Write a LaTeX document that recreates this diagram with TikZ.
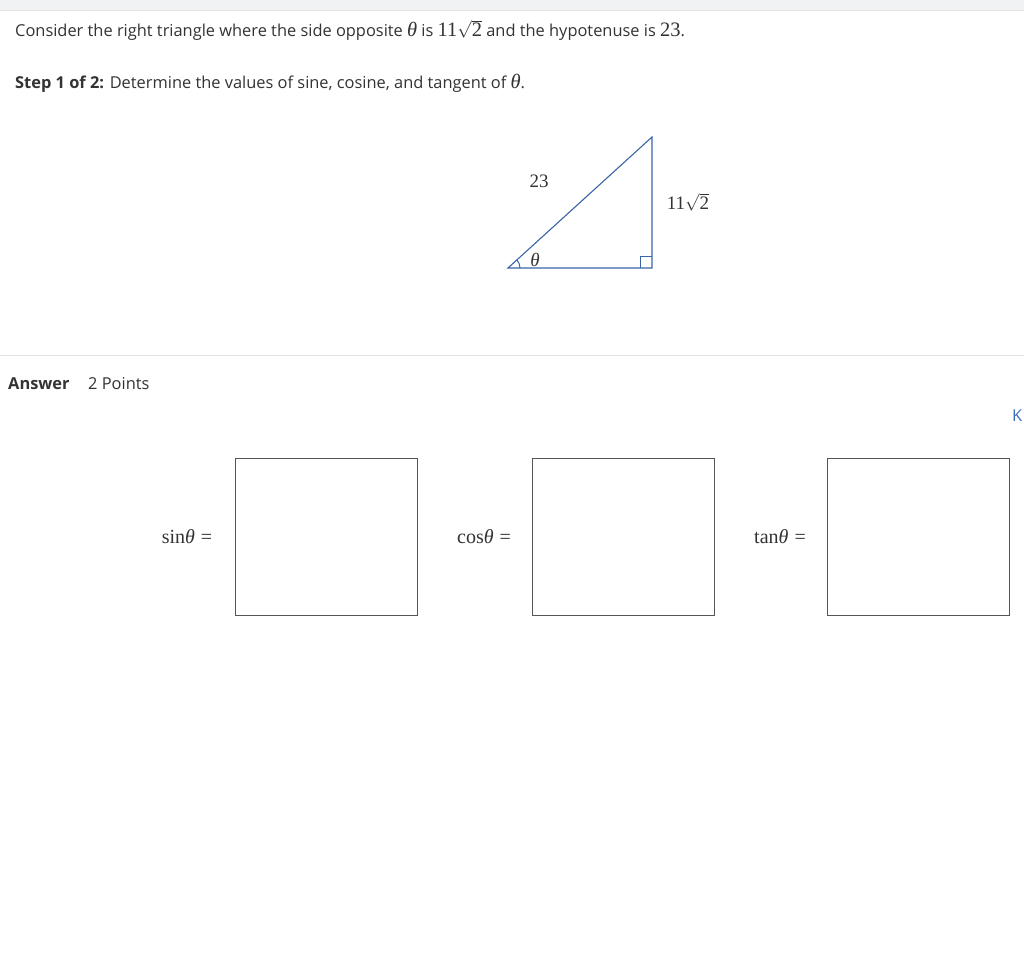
\documentclass[tikz,border=0pt]{standalone}
\usepackage{fontspec}
\setmainfont{Open Sans}
\newfontfamily\tfont{Liberation Serif}
\usetikzlibrary{calc}
\definecolor{txt}{HTML}{333333}
\definecolor{tri}{HTML}{3A64A8}
\definecolor{sep}{HTML}{E2E2E2}
\definecolor{band}{HTML}{F1F2F4}
\definecolor{boxc}{HTML}{555555}
\definecolor{link}{HTML}{3A6EB5}
\newcommand{\thet}{{\tfont\itshape θ}}
\newcommand{\mfs}{\fontsize{20.5}{24}\selectfont}
\tikzset{
  body/.style={font=\fontsize{16.4}{19}\selectfont, text=txt, inner sep=0pt, anchor=base west},
  mathlab/.style={font=\fontsize{20}{24}\selectfont\tfont, text=txt, inner sep=0pt},
  trilab/.style={font=\fontsize{19}{22}\selectfont\tfont, text=txt, inner sep=0pt},
  ansbox/.style={draw=boxc, line width=1pt, minimum width=182pt, minimum height=157pt, inner sep=0pt},
  triline/.style={draw=tri, line width=1.1pt},
}
\begin{document}
\begin{tikzpicture}[x=1pt,y=-1pt]
\useasboundingbox[fill=white] (0,0) rectangle (1024,963);
\fill[band] (0,0) rectangle (1024,10);
\draw[sep, line width=1pt] (0,10.5) -- (1024,10.5);

\node[body] (l1) at (15,37) {Consider the right triangle where the side opposite {\mfs\thet} is {\mfs\tfont 11}$\sqrt{\hbox{\mfs\tfont 2}}$ and the hypotenuse is {\mfs\tfont 23}.};
\node[body] (l2) at (15,89) {\textbf{Step 1 of 2:} Determine the values of sine, cosine, and tangent of {\mfs\thet}.};

% triangle
\coordinate (A) at (508,268);
\coordinate (B) at (652,268);
\coordinate (C) at (652,137);
\draw[triline, line join=miter] (A) -- (B) -- (C) -- cycle;
\draw[draw=tri, line width=1pt] (640,268) -- (640,256) -- (652,256);
\draw[draw=tri, line width=1pt] ($(A)+(12,0)$) arc[start angle=0, end angle=-42.3, radius=12];
\node[trilab] (h) at (539,181) {23};
\node[trilab] (o) at (688,202) {11$\sqrt{\hbox{\fontsize{19}{22}\selectfont\tfont 2}}$};
\node[trilab] (t) at (535,260) {\itshape θ};

\draw[sep, line width=1pt] (0,355) -- (1024,355);

\node[body, font=\fontsize{16.4}{19}\selectfont\bfseries] (ans) at (8,389) {Answer};
\node[body] (pts) at (88,389) {2 Points};
\node[body, text=link] (k) at (1012,421) {K};

\node[ansbox] (b1) at (326,536.5) {};
\node[ansbox] (b2) at (623,536.5) {};
\node[ansbox] (b3) at (918,536.5) {};

\node[mathlab] (s) at (187,537) {sin\thet\hspace{6pt}=};
\node[mathlab] (c) at (484,537) {cos\thet\hspace{6pt}=};
\node[mathlab] (tn) at (780,537) {tan\thet\hspace{6pt}=};
\end{tikzpicture}
\end{document}
